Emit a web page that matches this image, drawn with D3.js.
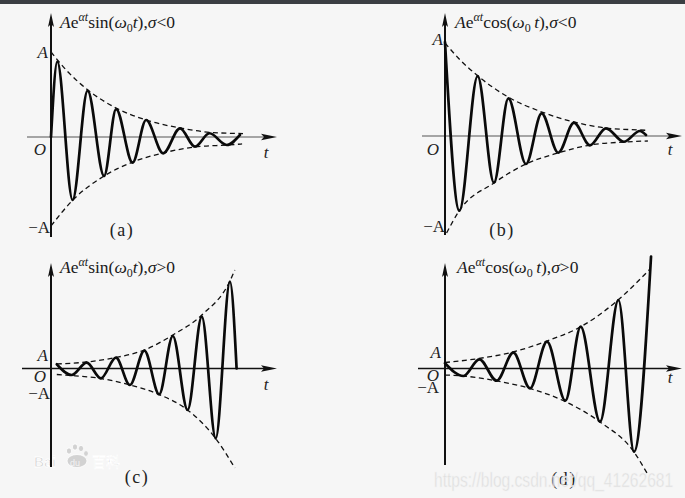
<!DOCTYPE html>
<html>
<head>
<meta charset="utf-8">
<script src="https://cdn.jsdelivr.net/npm/d3@7"></script>
<style>
  html, body { margin: 0; padding: 0; background: #f6f6f6; }
  svg { display: block; }
</style>
</head>
<body>
<svg id="chart" width="685" height="498"></svg>
<script>
// ---------------- DATA (t in periods, values in units of A) ----------------
const panelIds   = ["a", "b", "c", "d"];
const titleFuncs = ["sin", "cos", "sin", "cos"];
const titleSigns = ["<", "<", ">", ">"];
const captions   = ["(a)", "(b)", "(c)", "(d)"];
const axisLabels = ["A", "O", "\u2212A", "t"];

// (a) A e^{σt} sin(ω0 t), σ<0 — extrema
const aCurveT = [0, 0.21, 0.72, 1.22, 1.77, 2.17, 2.72, 3.17, 3.74, 4.30, 4.80, 5.28, 5.86, 6.30];
const aCurveV = [0, 0.886, -0.741, 0.545, -0.459, 0.329, -0.302, 0.200, -0.192, 0.102, -0.114, 0.044, -0.094, 0.024];
const aUpperT = [0, 0.5, 1.23, 2.17, 3.17, 4.30, 5.30, 6.40];
const aUpperV = [1.0, 0.79, 0.553, 0.341, 0.20, 0.106, 0.055, 0.04];
const aLowerT = [0, 0.73, 1.77, 2.73, 3.73, 4.80, 5.87, 6.37];
const aLowerV = [-1.047, -0.741, -0.459, -0.294, -0.188, -0.118, -0.094, -0.082];

// (b) A e^{σt} cos(ω0 t), σ<0
const bCurveT = [0, 0.45, 1.02, 1.53, 1.98, 2.53, 3.02, 3.54, 4.03, 4.53, 5.03, 5.59, 6.09, 6.28];
const bCurveV = [1.0, -0.795, 0.638, -0.497, 0.401, -0.298, 0.241, -0.178, 0.141, -0.099, 0.082, -0.061, 0.053, 0.011];
const bUpperT = [0, 0.5, 1.03, 1.97, 3.03, 4.03, 5.03, 6.09, 6.34];
const bUpperV = [0.989, 0.80, 0.638, 0.415, 0.255, 0.149, 0.085, 0.064, 0.06];
const bLowerT = [0.05, 0.44, 1.53, 2.53, 3.53, 4.53, 5.59, 6.34];
const bLowerV = [-1.032, -0.798, -0.50, -0.298, -0.181, -0.096, -0.064, -0.053];

// (c) A e^{σt} sin(ω0 t), σ>0
const cCurveT = [0.2, 0.71, 1.23, 1.72, 2.24, 2.72, 3.22, 3.73, 4.20, 4.71, 5.20, 5.68, 6.17, 6.40];
const cCurveV = [0.84, -1.3, 1.16, -1.96, 2.16, -3.3, 3.56, -5.16, 6.5, -8.3, 10.36, -13.96, 17.36, 0];
const cUpperT = [0.2, 1.23, 2.24, 3.22, 4.20, 5.20, 6.17, 6.34];
const cUpperV = [0.9, 1.3, 2.2, 3.7, 6.7, 10.7, 17.5, 19.7];
const cLowerT = [0.2, 0.71, 1.72, 2.72, 3.73, 4.71, 5.68, 6.34];
const cLowerV = [-1.2, -1.4, -2.0, -3.3, -5.2, -8.3, -14.0, -19.9];

// (d) A e^{σt} cos(ω0 t), σ>0
const dCurveT = [0, 0.54, 1.01, 1.52, 2.01, 2.50, 3.00, 3.54, 3.99, 4.56, 5.10, 5.56, 6.06];
const dCurveV = [0.87, -1.25, 1.53, -2.03, 2.63, -3.3, 4.47, -5.37, 6.97, -8.87, 11.42, -13.87, 18.67];
const dUpperT = [0, 1.0, 2.0, 3.0, 4.03, 5.09, 6.03];
const dUpperV = [1.0, 1.67, 2.75, 4.58, 7.08, 11.42, 16.58];
const dLowerT = [0, 0.53, 1.53, 2.50, 3.50, 4.56, 5.56, 5.94];
const dLowerV = [-1.08, -1.25, -2.08, -3.33, -5.42, -8.92, -13.92, -17.42];

const watermarkUrl = "https://blog.csdn.net/qq_41262681";

// ---------------- LAYOUT ----------------
const layout = {
  a: { x0: 51,  y0: 137,   kx: 30, ky: 85, yTop: 13,  yBot: 237, xL: 27,  xR: 277, xw: 1,   xc: "#555",
       title: [60, 28],  lab: { A: [48, 58, "end"], O: [40, 155, "middle"], nA: [50, 233, "end"], t: [266, 158, "middle"] }, cap: [122, 236] },
  b: { x0: 445, y0: 136,   kx: 32, ky: 94, yTop: 13,  yBot: 235, xL: 422, xR: 682, xw: 1,   xc: "#555",
       title: [455, 28], lab: { A: [443, 45, "end"], O: [433, 155, "middle"], nA: [445, 232, "end"], t: [670, 155, "middle"] }, cap: [502, 236] },
  c: { x0: 51,  y0: 368.5, kx: 29, ky: 5,  yTop: 263, yBot: 467, xL: 22,  xR: 277, xw: 1.6, xc: "#111",
       title: [60, 273], lab: { A: [48, 361, "end"], O: [40, 382, "middle"], nA: [50, 399, "end"], t: [266, 390, "middle"] }, cap: [137, 483] },
  d: { x0: 445, y0: 368.5, kx: 34, ky: 6,  yTop: 263, yBot: 465, xL: 418, xR: 682, xw: 1.6, xc: "#111",
       title: [457, 273], lab: { A: [441, 358, "end"], O: [433, 381, "middle"], nA: [439, 393, "end"], t: [670, 383, "middle"] }, cap: [564, 485] }
};

const series = {
  a: { curve: [aCurveT, aCurveV], up: [aUpperT, aUpperV], lo: [aLowerT, aLowerV] },
  b: { curve: [bCurveT, bCurveV], up: [bUpperT, bUpperV], lo: [bLowerT, bLowerV] },
  c: { curve: [cCurveT, cCurveV], up: [cUpperT, cUpperV], lo: [cLowerT, cLowerV] },
  d: { curve: [dCurveT, dCurveV], up: [dUpperT, dUpperV], lo: [dLowerT, dLowerV] }
};

const serif = "'Liberation Serif', 'DejaVu Serif', 'Times New Roman', serif";
const svg = d3.select("#chart");

svg.append("rect").attr("x", 0).attr("y", 0).attr("width", 685).attr("height", 498).attr("fill", "#f6f6f6");
svg.append("rect").attr("x", 0).attr("y", 0).attr("width", 685).attr("height", 4).attr("fill", "#3b3e43");

// Baidu watermark (beneath the figure)
const wm = svg.append("g").attr("fill", "#d2d2d2").attr("stroke", "#ffffff").attr("stroke-width", 0.8);
wm.append("text").attr("x", 34).attr("y", 467).attr("font-family", "'Liberation Sans', Arial, sans-serif")
  .attr("font-size", 14).attr("font-weight", "bold").text("Bai");
[[69, 451, 2.6], [75, 447, 2.6], [81, 448.5, 2.6], [86, 453.5, 2.4]].forEach(c => {
  wm.append("ellipse").attr("cx", c[0]).attr("cy", c[1]).attr("rx", c[2]).attr("ry", c[2] * 1.2);
});
wm.append("ellipse").attr("cx", 77).attr("cy", 461).attr("rx", 10).attr("ry", 6.5);
wm.append("text").attr("x", 70).attr("y", 466).attr("font-family", "'Liberation Sans', Arial, sans-serif")
  .attr("font-size", 9).attr("fill", "#f4f4f4").attr("stroke", "none").text("du");
wm.append("text").attr("x", 92).attr("y", 467).attr("font-family", "'Noto Sans CJK SC', sans-serif")
  .attr("font-size", 14).text("百科");

const zip = (T, V) => T.map((t, i) => [t, V[i]]);

panelIds.forEach((id, idx) => {
  const L = layout[id];
  const S = series[id];
  const x = d3.scaleLinear().domain([0, 1]).range([L.x0, L.x0 + L.kx]);
  const y = d3.scaleLinear().domain([0, 1]).range([L.y0, L.y0 - L.ky]);
  const g = svg.append("g");

  // axes
  g.append("line").attr("x1", L.xL).attr("x2", L.xR - 10).attr("y1", L.y0).attr("y2", L.y0)
    .attr("stroke", L.xc).attr("stroke-width", L.xw);
  g.append("path").attr("d", `M${L.xR},${L.y0} L${L.xR - 16},${L.y0 - 3.3} L${L.xR - 13},${L.y0} L${L.xR - 16},${L.y0 + 3.3} Z`)
    .attr("fill", "#111");
  g.append("line").attr("x1", L.x0).attr("x2", L.x0).attr("y1", L.yBot).attr("y2", L.yTop + 8)
    .attr("stroke", "#111").attr("stroke-width", 2);
  g.append("path").attr("d", `M${L.x0},${L.yTop} L${L.x0 - 3},${L.yTop + 14} L${L.x0},${L.yTop + 11} L${L.x0 + 3},${L.yTop + 14} Z`)
    .attr("fill", "#111");

  const line = d3.line().x(d => x(d[0])).y(d => y(d[1])).curve(d3.curveMonotoneX);

  // envelopes
  [S.up, S.lo].forEach(arr => {
    g.append("path").attr("d", line(zip(arr[0], arr[1])))
      .attr("fill", "none").attr("stroke", "#111").attr("stroke-width", 1.3)
      .attr("stroke-dasharray", "5,3.5");
  });

  // oscillation
  g.append("path").attr("d", line(zip(S.curve[0], S.curve[1])))
    .attr("fill", "none").attr("stroke", "#0a0a0a").attr("stroke-width", 2.7)
    .attr("stroke-linejoin", "round").attr("stroke-linecap", "round");

  // axis labels
  const labKeys = ["A", "O", "nA", "t"];
  labKeys.forEach((k, i) => {
    const p = L.lab[k];
    g.append("text").attr("x", p[0]).attr("y", p[1]).attr("text-anchor", p[2])
      .attr("font-family", serif).attr("font-size", 17)
      .attr("font-style", k === "nA" ? "normal" : "italic")
      .attr("fill", "#222")
      .text(axisLabels[i]);
  });

  // title
  const fn = titleFuncs[idx];
  const tt = g.append("text").attr("x", L.title[0]).attr("y", L.title[1])
    .attr("font-family", serif).attr("font-size", 17.5).attr("fill", "#1a1a1a");
  tt.append("tspan").attr("font-style", "italic").text("A");
  tt.append("tspan").text("e");
  tt.append("tspan").attr("font-style", "italic").attr("font-size", 12).attr("dy", -7).text("\u03B1t");
  tt.append("tspan").attr("dy", 7).text(fn + "(");
  tt.append("tspan").attr("font-style", "italic").text("\u03C9");
  tt.append("tspan").attr("font-size", 12).attr("dy", 4).text("0");
  tt.append("tspan").attr("dy", -4).attr("font-style", "italic").text(fn === "cos" ? "\u2009t" : "t");
  tt.append("tspan").text("),");
  tt.append("tspan").attr("font-style", "italic").text("\u03C3");
  tt.append("tspan").text(titleSigns[idx] + "0");

  // caption
  g.append("text").attr("x", L.cap[0]).attr("y", L.cap[1]).attr("text-anchor", "middle")
    .attr("font-family", serif).attr("font-size", 18).attr("letter-spacing", 1.5).attr("fill", "#222")
    .text(captions[idx]);
});

// CSDN watermark (tall, narrow lettering)
svg.append("text").attr("transform", "translate(434,487) scale(1,1.35)")
  .attr("font-family", "'Liberation Sans', Arial, sans-serif").attr("font-size", 15.6)
  .attr("fill", "#d8d8d8").attr("fill-opacity", 0.8).attr("stroke", "#f2f2f2").attr("stroke-width", 0.4)
  .text(watermarkUrl);
</script>
</body>
</html>
